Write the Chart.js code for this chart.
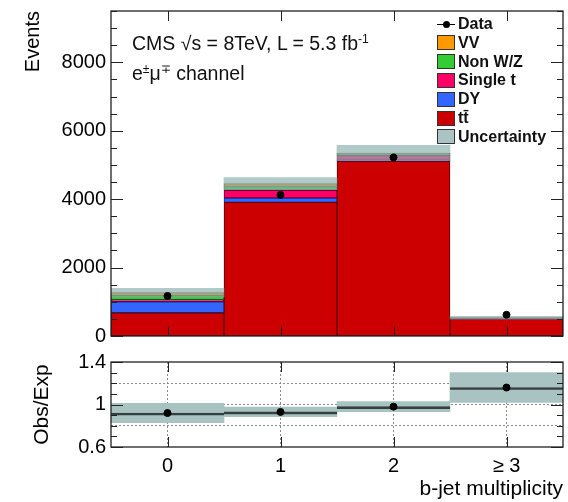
<!DOCTYPE html>
<html>
<head>
<meta charset="utf-8">
<script src="https://cdn.jsdelivr.net/npm/chart.js@4.4.1/dist/chart.umd.min.js"></script>
<style>
  body { margin: 0; background: #fff; width: 568px; height: 502px; position: relative; overflow: hidden;
         font-family: "Liberation Sans", Arial, sans-serif; color: #111; }
  canvas { position: absolute; left: 0; }
  #top { top: 0; }
  #ratio { top: 340px; }
  .note { position: absolute; font-size: 19.5px; line-height: 22px; white-space: nowrap; }
  sup { font-size: 0.62em; vertical-align: 0.55em; line-height: 0; }
  .leg { position: absolute; left: 437px; height: 18px; display: flex; align-items: center;
         font-weight: bold; font-size: 16px; white-space: nowrap; }
  .sw { width: 16px; height: 13px; border: 1px solid #333; margin-right: 3px; }
  .dot { width: 18px; height: 13px; margin-right: 3px; position: relative; }
  .dot::before { content: ""; position: absolute; left: 0; right: 0; top: 6px; border-top: 1.5px solid #000; }
  .dot::after { content: ""; position: absolute; left: 6px; top: 3px; width: 7px; height: 7px; border-radius: 50%; background: #000; }
</style>
</head>
<body>
<canvas id="top" width="568" height="345"></canvas>
<canvas id="ratio" width="568" height="162"></canvas>

<div class="note" style="left:132px;top:32px">CMS √s = 8TeV, L = 5.3 fb<sup>-1</sup></div>
<div class="note" style="left:132px;top:62px">e<sup>±</sup>μ<sup>∓</sup> channel</div>

<div id="legend"></div>

<script>
// b-jet multiplicity bins
const categories = ["0", "1", "2", "≥ 3"];

// expected events per process (stacked, bottom to top)
const ttbar = [680, 3905, 5110, 505];
const drellYan = [320, 130, 30, 5];
const singleTop = [60, 225, 140, 20];
const nonWZ = [120, 110, 50, 3];
const diboson = [90, 85, 20, 2];

// observed events and total uncertainty on the expectation
const observed = [1170, 4125, 5220, 620];
const expUnc = [125, 175, 220, 40];

// ratio panel
const ratio = [0.92, 0.93, 0.98, 1.16];
const ratioUnc = [0.09, 0.045, 0.048, 0.14];

const eventTicks = [0, 2000, 4000, 6000, 8000];
const ratioTicks = [0.6, 0.8, 1.0, 1.2, 1.4];

const colors = {
  tt: "#cc0000", dy: "#3366ff", st: "#ff0066", nonWZ: "#33cc33", vv: "#ff9900", unc: "#aac4c4"
};

Chart.defaults.font.family = '"Liberation Sans", Arial, sans-serif';
Chart.defaults.color = "#000";

// legend (html, top right)
const legendRows = [
  ["Data", null],
  ["VV", colors.vv],
  ["Non W/Z", colors.nonWZ],
  ["Single t", colors.st],
  ["DY", colors.dy],
  ["tt̄", colors.tt],
  ["Uncertainty", colors.unc]
];
const legendEl = document.getElementById("legend");
legendRows.forEach(([name, col], i) => {
  const row = document.createElement("div");
  row.className = "leg";
  row.style.top = (15 + i * 18.8) + "px";
  const mark = document.createElement("span");
  if (col) { mark.className = "sw"; mark.style.background = col; }
  else mark.className = "dot";
  const txt = document.createElement("span");
  txt.textContent = name;
  row.appendChild(mark);
  row.appendChild(txt);
  legendEl.appendChild(row);
});

// frame with inward ticks, ROOT style
const frameTicks = {
  id: "frameTicks",
  afterDatasetsDraw(chart, args, opts) {
    const { ctx, chartArea: a, scales: { x, y } } = chart;
    ctx.save();
    ctx.strokeStyle = "#222";
    ctx.lineWidth = 1;
    ctx.beginPath();
    for (let k = 0; ; k++) {
      const v = opts.min + k * opts.minor;
      if (v > opts.max + 1e-9) break;
      const py = Math.round(y.getPixelForValue(v)) + 0.5;
      const q = (v - opts.min) / opts.major;
      const len = Math.abs(q - Math.round(q)) < 1e-6 ? 12 : 6;
      ctx.moveTo(a.left, py); ctx.lineTo(a.left + len, py);
      ctx.moveTo(a.right, py); ctx.lineTo(a.right - len, py);
    }
    categories.forEach((c, i) => {
      const px = Math.round(x.getPixelForValue(i)) + 0.5;
      ctx.moveTo(px, a.bottom); ctx.lineTo(px, a.bottom - 10);
      ctx.moveTo(px, a.top); ctx.lineTo(px, a.top + 10);
    });
    ctx.stroke();
    ctx.lineWidth = 1.3;
    ctx.strokeRect(a.left, a.top, a.right - a.left, a.bottom - a.top);
    ctx.restore();
  }
};

const stackSet = (label, values, bg, edge) => ({
  type: "bar", label, data: values, backgroundColor: bg, borderColor: edge,
  borderWidth: 1, borderSkipped: false, stack: "mc"
});

const noPad = (s) => { s.paddingTop = 0; s.paddingBottom = 0; s.paddingLeft = 0; s.paddingRight = 0; };

const expTotal = categories.map((c, i) => ttbar[i] + drellYan[i] + singleTop[i] + nonWZ[i] + diboson[i]);

new Chart(document.getElementById("top"), {
  data: {
    labels: categories,
    datasets: [
      { type: "line", label: "Data", data: observed, stack: "obs", showLine: false,
        pointRadius: 3.5, pointBackgroundColor: "#000", pointBorderColor: "#000" },
      { type: "bar", label: "Uncertainty", stack: "unc", grouped: false,
        data: expTotal.map((t, i) => [t - expUnc[i], t + expUnc[i]]),
        backgroundColor: "rgba(140,176,176,0.68)", borderWidth: 0 },
      stackSet("tt̄", ttbar, colors.tt, "#5a0000"),
      stackSet("DY", drellYan, colors.dy, "#1a2a80"),
      stackSet("Single t", singleTop, colors.st, "#700030"),
      stackSet("Non W/Z", nonWZ, colors.nonWZ, "#1a601a"),
      stackSet("VV", diboson, colors.vv, "#7a4a00")
    ]
  },
  options: {
    responsive: false,
    animation: false,
    barPercentage: 1,
    categoryPercentage: 1,
    layout: { padding: { top: 11, right: 2, bottom: 9, left: 0 } },
    plugins: {
      legend: { display: false },
      tooltip: { enabled: false },
      frameTicks: { min: 0, max: 9500, major: 2000, minor: 500 }
    },
    scales: {
      x: { display: false, stacked: true, afterFit: noPad },
      y: {
        stacked: true, min: 0, max: 9500,
        grid: { display: false, drawTicks: false },
        border: { display: false },
        afterBuildTicks: (s) => { s.ticks = eventTicks.map(v => ({ value: v })); },
        ticks: { font: { size: 20 }, padding: 5, autoSkip: false, callback: (v) => String(v) },
        title: { display: true, text: "Events", align: "end", font: { size: 20 }, padding: { top: 21 } },
        afterFit: (s) => { s.width = 111; noPad(s); }
      }
    }
  },
  plugins: [frameTicks]
});

new Chart(document.getElementById("ratio"), {
  data: {
    labels: categories,
    datasets: [
      { type: "line", label: "Obs/Exp", data: ratio, showLine: false,
        pointRadius: 3.5, pointBackgroundColor: "#000", pointBorderColor: "#000" },
      { type: "bar", label: "ratio line", grouped: false,
        data: ratio.map((r, i) => [r - ratioUnc[i], r]),
        backgroundColor: "rgba(0,0,0,0)", borderColor: "#34403f",
        borderWidth: { top: 2, bottom: 0, left: 0, right: 0 }, borderSkipped: false },
      { type: "bar", label: "band", grouped: false,
        data: ratio.map((r, i) => [r - ratioUnc[i], r + ratioUnc[i]]),
        backgroundColor: "#a9c3c3", borderWidth: 0 }
    ]
  },
  options: {
    responsive: false,
    animation: false,
    barPercentage: 1,
    categoryPercentage: 1,
    layout: { padding: { top: 22, right: 2, bottom: 0, left: 0 } },
    plugins: {
      legend: { display: false },
      tooltip: { enabled: false },
      frameTicks: { min: 0.6, max: 1.4, major: 0.4, minor: 0.1 }
    },
    scales: {
      x: {
        grid: { display: true, drawTicks: false, offset: false, color: "#8a8a8a", lineWidth: 1 },
        border: { display: false, dash: [2, 2] },
        ticks: { font: { size: 20 }, padding: 7 },
        title: { display: true, text: "b-jet multiplicity", align: "end", font: { size: 21 }, padding: { top: 0, bottom: 0 } },
        afterFit: (s) => { s.height = 55; noPad(s); }
      },
      y: {
        min: 0.6, max: 1.4,
        grid: {
          drawTicks: false, lineWidth: 1,
          color: (c) => (c.tick && (Math.abs(c.tick.value - 0.6) < 1e-6 || Math.abs(c.tick.value - 1.4) < 1e-6)) ? "rgba(0,0,0,0)" : "#8a8a8a"
        },
        border: { display: false, dash: [2, 2] },
        afterBuildTicks: (s) => { s.ticks = ratioTicks.map(v => ({ value: v })); },
        ticks: {
          font: { size: 20 }, padding: 5, autoSkip: false,
          callback: (v) => Math.abs(v - 1) < 1e-6 ? "1" : (Math.abs(v - 0.6) < 1e-6 || Math.abs(v - 1.4) < 1e-6) ? v.toFixed(1) : ""
        },
        title: { display: true, text: "Obs/Exp", font: { size: 21 }, padding: { top: 30 } },
        afterFit: (s) => { s.width = 111; noPad(s); }
      }
    }
  },
  plugins: [frameTicks]
});
</script>
</body>
</html>
